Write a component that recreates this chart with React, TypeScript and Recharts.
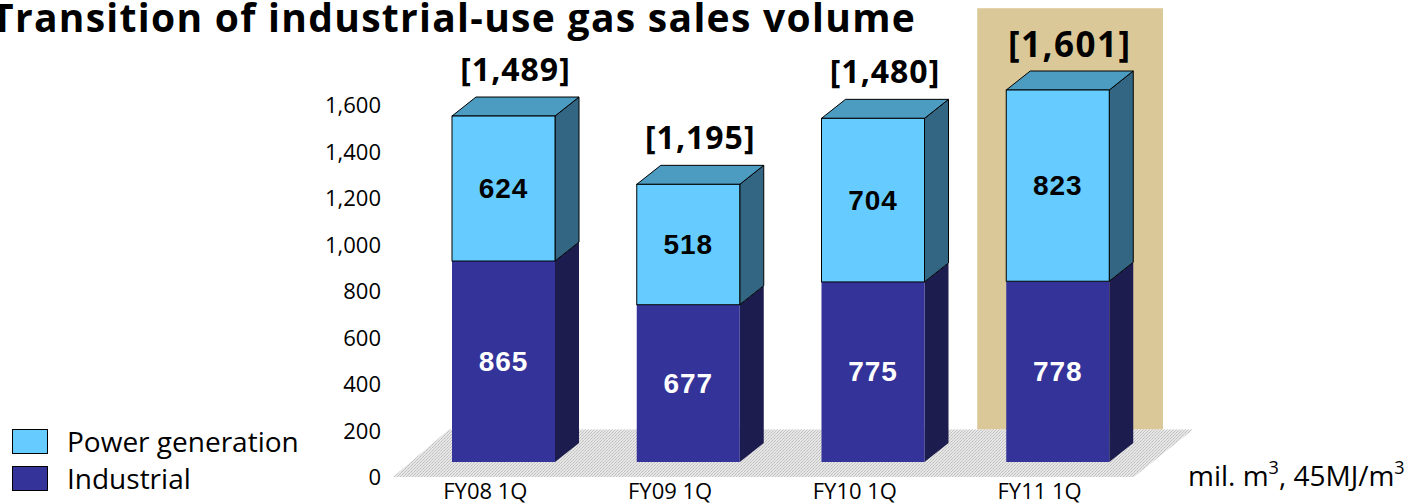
import React from 'react';
import { BarChart, Bar, XAxis, YAxis, LabelList, ReferenceArea } from 'recharts';

const categories = ['FY08 1Q', 'FY09 1Q', 'FY10 1Q', 'FY11 1Q'];
const industrial = [865, 677, 775, 778];
const power = [624, 518, 704, 823];
const totalLabels = ['[1,489]', '[1,195]', '[1,480]', '[1,601]'];
const yTicks = [0, 200, 400, 600, 800, 1000, 1200, 1400, 1600];
const highlightCategory = 'FY11 1Q';
const seriesNames = { power: 'Power generation', industrial: 'Industrial' };

const data = categories.map((c, i) => ({
  category: c,
  industrial: industrial[i],
  power: power[i],
  total: totalLabels[i],
}));

const DX = 24;
const DY = 19;
const LIFT = 14;

const COLORS = {
  power: { front: '#66CCFF', top: '#4C9BC1', side: '#336682' },
  industrial: { front: '#333399', top: '#2A2A80', side: '#1C1C4E' },
  tan: '#DBC898',
};

const FONT = '"Open Sans", sans-serif';
const NUMFONT = '"Liberation Sans", Arial, sans-serif';

function makeShape(kind: 'power' | 'industrial') {
  return (props: any) => {
    const { x, width, height } = props;
    const y = props.y - LIFT;
    if (!width || height == null) return null;
    const c = COLORS[kind];
    const stroke = kind === 'power' ? '#000' : 'none';
    const sideFace = `${x + width},${y} ${x + width + DX},${y - DY} ${x + width + DX},${y + height - DY} ${x + width},${y + height}`;
    const topFace = `${x},${y} ${x + DX},${y - DY} ${x + width + DX},${y - DY} ${x + width},${y}`;
    return (
      <g>
        <polygon points={sideFace} fill={c.side} stroke={stroke} strokeWidth={1} strokeLinejoin="round" />
        {kind === 'power' && (
          <polygon points={topFace} fill={c.top} stroke={stroke} strokeWidth={1} strokeLinejoin="round" />
        )}
        <rect x={x} y={y} width={width} height={height} fill={c.front} stroke={stroke} strokeWidth={1} />
      </g>
    );
  };
}

const valueLabel = (color: string) => (props: any) => {
  const { x, y, width, height, value } = props;
  return (
    <text
      x={x + width / 2}
      y={y - LIFT + height / 2}
      textAnchor="middle"
      dominantBaseline="central"
      fill={color}
      fontFamily={NUMFONT}
      fontWeight="bold"
      fontSize={28}
      letterSpacing={1}
    >
      {value}
    </text>
  );
};

const totalLabel = (props: any) => {
  const { x, y, width, value, index } = props;
  const hl = categories[index] === highlightCategory;
  return (
    <text
      x={x + width / 2 + 12}
      y={y - LIFT - (hl ? 47 : 48)}
      textAnchor="middle"
      dominantBaseline="central"
      fill="#000"
      fontFamily={FONT}
      fontWeight="bold"
      fontSize={hl ? 35 : 32}
      letterSpacing={hl ? 1.5 : 1}
    >
      {value}
    </text>
  );
};

const FloorShape = (props: any) => {
  const { x, y, width, height } = props;
  const b = y + height;
  const pts = `${x - 18},${b + 1} ${x + width - 16},${b + 1} ${x + width + 43},${y} ${x + 38},${y}`;
  return (
    <g>
      <defs>
        <pattern id="floorPat" width="3" height="3" patternUnits="userSpaceOnUse">
          <rect width="3" height="3" fill="#E6E6E6" />
          <rect width="1" height="1" fill="#BDBDBD" />
          <rect x="2" y="1" width="1" height="1" fill="#CACACA" />
          <rect x="1" y="2" width="1" height="1" fill="#C4C4C4" />
        </pattern>
      </defs>
      <polygon points={pts} fill="url(#floorPat)" />
    </g>
  );
};

const HighlightShape = (props: any) => {
  const { x, y, width, height } = props;
  return <rect x={x + 12} y={y - 96} width={width + 1} height={height + 96} fill={COLORS.tan} />;
};

const YTick = (props: any) => {
  const { y, payload } = props;
  return (
    <text x={381} y={y} textAnchor="end" dominantBaseline="central" fontFamily={FONT} fontSize={22} fill="#000">
      {payload.value.toLocaleString('en-US')}
    </text>
  );
};

const XTick = (props: any) => {
  const { x, payload } = props;
  return (
    <text x={x - 18} y={499} textAnchor="middle" fontFamily={FONT} fontSize={22} fill="#000">
      {payload.value}
    </text>
  );
};

export default function App() {
  return (
    <div style={{ position: 'absolute', left: 0, top: 0, width: 1416, height: 504, background: '#fff', overflow: 'hidden' }}>
      <BarChart
        width={1416}
        height={504}
        data={data}
        margin={{ top: 104, right: 266, bottom: 0, left: 0 }}
        barSize={103}
      >
        <XAxis dataKey="category" height={28} axisLine={false} tickLine={false} tick={<XTick />} interval={0} />
        <YAxis
          width={411}
          domain={[0, 1600]}
          ticks={yTicks}
          axisLine={false}
          tickLine={false}
          tick={<YTick />}
          interval={0}
        />
        <ReferenceArea
          x1={highlightCategory}
          x2={highlightCategory}
          y1={200}
          y2={1600}
          ifOverflow="visible"
          shape={<HighlightShape />}
        />
        <ReferenceArea y1={0} y2={200} ifOverflow="visible" shape={<FloorShape />} />
        <Bar dataKey="industrial" stackId="a" isAnimationActive={false} shape={makeShape('industrial')}>
          <LabelList dataKey="industrial" content={valueLabel('#fff')} />
        </Bar>
        <Bar dataKey="power" stackId="a" isAnimationActive={false} shape={makeShape('power')}>
          <LabelList dataKey="power" content={valueLabel('#000')} />
          <LabelList dataKey="total" content={totalLabel} />
        </Bar>
      </BarChart>

      <div
        style={{
          position: 'absolute', left: -9, top: -3, fontFamily: FONT, fontWeight: 'bold',
          fontSize: 39, lineHeight: '39px', letterSpacing: 1.3, whiteSpace: 'nowrap', color: '#000',
        }}
      >
        Transition of industrial-use gas sales volume
      </div>

      {([['power', 429], ['industrial', 466]] as const).map(([k, top]) => (
        <div key={k} style={{ position: 'absolute', left: 12, top, display: 'flex', alignItems: 'center', height: 25 }}>
          <div style={{ width: 34, height: 23, background: COLORS[k].front, border: '1.5px solid #000' }} />
          <span style={{ marginLeft: 19, fontFamily: FONT, fontSize: 28, lineHeight: '25px', color: '#000', whiteSpace: 'nowrap' }}>
            {seriesNames[k]}
          </span>
        </div>
      ))}

      <div
        style={{
          position: 'absolute', left: 1188, top: 460, fontFamily: FONT, fontSize: 28,
          lineHeight: '30px', whiteSpace: 'nowrap', color: '#000',
        }}
      >
        mil. m<sup style={{ fontSize: 18, verticalAlign: 'top', lineHeight: '14px' }}>3</sup>, 45MJ/m
        <sup style={{ fontSize: 18, verticalAlign: 'top', lineHeight: '14px' }}>3</sup>
      </div>
    </div>
  );
}
